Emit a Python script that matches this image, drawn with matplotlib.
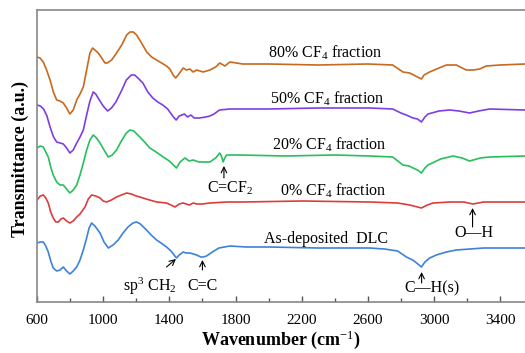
import matplotlib
matplotlib.use("Agg")
import matplotlib.pyplot as plt

plt.rcParams["font.family"] = ["Liberation Serif", "DejaVu Serif"]
plt.rcParams["mathtext.fontset"] = "custom"
plt.rcParams["mathtext.rm"] = "Liberation Serif"
plt.rcParams["mathtext.it"] = "Liberation Serif:italic"
plt.rcParams["mathtext.bf"] = "Liberation Serif:bold"

# FTIR spectra (wavenumber in cm-1, transmittance in a.u. with offsets)
wn_80 = [600, 618, 638, 658, 679, 699, 719, 739, 759, 779, 799, 819, 840, 860, 880, 900,
         920, 936, 950, 970, 991, 1011, 1025, 1051, 1081, 1112, 1142, 1162, 1182, 1202, 1232,
         1263, 1293, 1323, 1353, 1383, 1403, 1423, 1438, 1453, 1484, 1504, 1524, 1544, 1565,
         1605, 1645, 1680, 1705, 1736, 1766, 1844, 2000, 2300, 2600, 2750, 2812, 2853, 2900,
         2924, 2940, 2973, 3030, 3075, 3135, 3170, 3195, 3240, 3276, 3316, 3400, 3550]
t_80 = [245, 244, 240, 232, 222, 210, 202, 201, 199, 194, 188, 192, 202, 208, 215, 232,
        249, 254, 252, 249, 244, 239, 239, 242, 249, 257, 267, 270, 270, 267, 259,
        250, 245, 242, 239, 236, 233, 227, 224, 227, 234, 232, 233, 230, 232,
        230, 232, 235, 239, 236, 240, 238, 238, 237, 238, 237, 230, 229, 225,
        223, 227, 230, 234, 237, 237, 234, 232, 232, 233, 236, 237, 238]

wn_50 = [600, 620, 640, 660, 679, 700, 719, 739, 759, 779, 799, 819, 840, 860, 880, 900,
         920, 940, 955, 977, 1000, 1027, 1050, 1077, 1110, 1140, 1170, 1190, 1210, 1240, 1270,
         1300, 1330, 1360, 1390, 1420, 1441, 1460, 1491, 1510, 1530, 1550, 1582, 1620, 1645,
         1670, 1703, 1766, 2000, 2300, 2611, 2750, 2800, 2832, 2873, 2900, 2924, 2945, 2964,
         3030, 3094, 3150, 3215, 3270, 3336, 3550]
t_50 = [197, 196, 193, 186, 175, 165, 160, 159, 158, 154, 149, 152, 159, 165, 172, 187,
        201, 210, 208, 202, 196, 191, 194, 200, 211, 222, 227, 227, 224, 219, 210,
        204, 200, 197, 193, 186, 182, 186, 188, 185, 187, 184, 184, 185, 186,
        188, 192, 193, 193, 194, 194, 193, 189, 187, 184, 183, 180, 185, 188,
        191, 192, 191, 189, 191, 193, 192]

wn_20 = [600, 620, 638, 653, 668, 683, 698, 719, 739, 759, 779, 799, 819, 840, 860, 880,
         900, 920, 940, 960, 981, 1005, 1031, 1055, 1081, 1110, 1140, 1162, 1185, 1222, 1250,
         1282, 1320, 1363, 1400, 1443, 1465, 1494, 1520, 1544, 1580, 1645, 1680, 1705, 1715,
         1725, 1735, 1746, 1826, 2100, 2400, 2611, 2750, 2812, 2850, 2873, 2900, 2924, 2945,
         2964, 3040, 3115, 3170, 3215, 3280, 3336, 3550]
t_20 = [154, 156, 155, 150, 145, 135, 127, 120, 117, 117, 113, 109, 112, 117, 127, 139,
        152, 162, 167, 164, 159, 152, 145, 147, 152, 161, 169, 172, 171, 165, 160,
        154, 150, 145, 141, 134, 140, 144, 141, 142, 140, 140, 144, 149, 146,
        140, 144, 147, 147, 146, 147, 146, 145, 137, 136, 134, 132, 129, 134,
        137, 143, 146, 144, 141, 144, 145, 146]

wn_0 = [600, 620, 638, 653, 668, 683, 698, 714, 729, 745, 759, 779, 799, 819, 840, 860,
        890, 910, 930, 955, 981, 1000, 1021, 1050, 1081, 1110, 1142, 1170, 1200, 1222, 1260,
        1323, 1383, 1410, 1434, 1460, 1484, 1520, 1545, 1565, 1600, 1645, 1750, 1846, 2200,
        2611, 2780, 2853, 2924, 2960, 2994, 3100, 3180, 3235, 3300, 3550]
t_0 = [102, 106, 107, 104, 99, 90, 84, 80, 80, 83, 84, 81, 79, 81, 85, 88,
       95, 103, 107, 106, 104, 101, 100, 102, 105, 107, 109, 108, 106, 105, 103,
       100, 99, 97, 95, 98, 99, 97, 99, 98, 98, 99, 100, 100, 101,
       100, 99, 97, 94, 97, 99, 100, 100, 98, 100, 100]

wn_dlc = [600, 620, 638, 653, 668, 683, 698, 719, 739, 759, 779, 799, 819, 840, 860, 880,
          900, 915, 930, 950, 981, 1005, 1031, 1060, 1091, 1120, 1150, 1180, 1202, 1225, 1262,
          1290, 1323, 1350, 1383, 1410, 1443, 1460, 1484, 1500, 1524, 1545, 1565, 1590, 1605,
          1625, 1660, 1700, 1766, 1866, 2000, 2300, 2611, 2700, 2780, 2833, 2871, 2895, 2924,
          2945, 2974, 3014, 3075, 3135, 3300, 3550]
t_dlc = [59, 60, 60, 56, 50, 41, 34, 31, 32, 35, 31, 28, 31, 35, 42, 52,
         64, 74, 79, 76, 69, 60, 54, 57, 62, 69, 75, 79, 80, 78, 72,
         67, 62, 59, 55, 51, 44, 47, 50, 49, 49, 48, 47, 45, 45,
         46, 50, 54, 56, 55, 55, 54, 54, 53, 51, 45, 42, 39, 35,
         40, 44, 47, 50, 52, 54, 54]

tick_values = [600, 1000, 1400, 1800, 2200, 2600, 3000, 3400]

series = [
    (wn_80, t_80, "#c8691e", "80% CF$_4$ fraction", 2343, 249),
    (wn_50, t_50, "#7d3ee6", "50% CF$_4$ fraction", 2355, 203),
    (wn_20, t_20, "#27c05a", "20% CF$_4$ fraction", 2367, 157),
    (wn_0, t_0, "#dc3c3c", "0% CF$_4$ fraction", 2391, 111),
    (wn_dlc, t_dlc, "#3c82dc", "As-deposited  DLC", 2349, 63),
]

# band assignments: text, text pos, arrow tail, arrow head
bands = [
    ("C=CF$_2$", (1769, 114), (1730, 124), (1730, 136)),
    ("sp$^3$ CH$_2$", (1283, 16), (1383, 35), (1440, 43)),
    ("C=C", (1603, 16), (1600, 32), (1600, 42)),
    ("O\u2014H", (3240, 69), (3233, 75), (3233, 94)),
    ("C\u2014H(s)", (2986, 14), (2925, 19), (2925, 30)),
]

fig = plt.figure(figsize=(5.25, 3.53), dpi=100)
ax = fig.add_axes([37 / 525, 51 / 353, 1 - 37 / 525, 292 / 353])

for wn, t, color, label, lx, ly in series:
    ax.plot(wn, t, color=color, lw=1.2)
    ax.text(lx, ly, label, ha="center", va="center", fontsize=11.5)

for text, tpos, tail, head in bands:
    ax.text(tpos[0], tpos[1], text, ha="center", va="center", fontsize=11.5)
    ax.annotate("", xy=head, xytext=tail,
                arrowprops=dict(arrowstyle="->", lw=0.8, color="black", shrinkA=0, shrinkB=0))

ax.set_xlim(600, 3550)
ax.set_ylim(0, 292)
ax.set_xticks(tick_values)
ax.set_xticks(range(800, 3600, 400), minor=True)
ax.tick_params(axis="x", which="both", direction="in", labelsize=11, colors="#555555",
               labelcolor="black", pad=9)
ax.tick_params(axis="x", which="major", length=4, width=1)
ax.tick_params(axis="x", which="minor", length=3, width=1)
ax.set_yticks([])
for side in ["left", "top", "bottom"]:
    ax.spines[side].set_color("#888888")
    ax.spines[side].set_linewidth(1.2)
ax.spines["right"].set_visible(False)

ax.set_xlabel("Wavenumber (cm$^{-1}$)", fontsize=13, fontweight="bold", labelpad=1)
ax.set_ylabel("Transmittance (a.u.)", fontsize=13, fontweight="bold")
ax.yaxis.set_label_coords(-0.016, 0.49)

fig.savefig("out.png", dpi=100)
